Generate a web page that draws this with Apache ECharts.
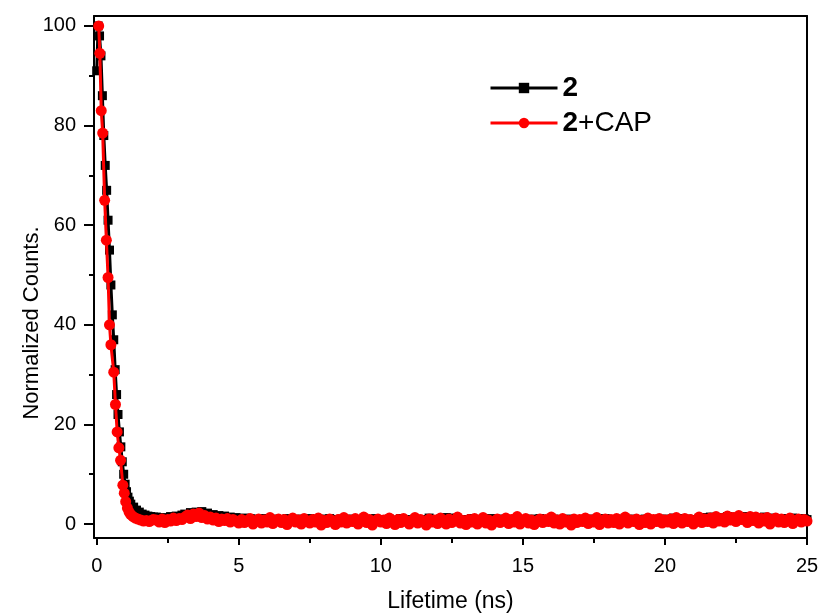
<!DOCTYPE html>
<html><head><meta charset="utf-8">
<script src="https://cdn.jsdelivr.net/npm/echarts@6/dist/echarts.min.js"></script>
<style>html,body{margin:0;padding:0;background:#fff}#c{width:821px;height:615px}</style>
</head><body><div id="c"></div>
<script>
const seriesNames = ['2', '2+CAP'];
const xTicks = [0, 5, 10, 15, 20, 25];
const xMinorTicks = [2.5, 7.5, 12.5, 17.5, 22.5];
const yTicks = [0, 20, 40, 60, 80, 100];
const yMinorTicks = [10, 30, 50, 70, 90];

// Series "2" (black) – decay part
const blackDecayTime = [0.00,0.05,0.10,0.15,0.20,0.25,0.30,0.35,0.40,0.45,0.50,0.55,0.60,0.65,0.70,0.75,0.80,0.85,0.90,0.95,1.00,1.05,1.10,1.15,1.20,1.30,1.40,1.50,1.60,1.70,1.80,1.90,2.00];
const blackDecayCounts = [91,100,98,94,86,78,72,67,61,55,48,42,37,31,26,22,18.5,15.5,12.5,10,8,6.5,5.4,4.6,4,3.4,2.8,2.4,2.0,1.8,1.6,1.5,1.4];

// Series "2+CAP" (red) – decay part
const redDecayTime = [0.07,0.11,0.16,0.21,0.28,0.34,0.40,0.45,0.50,0.60,0.66,0.72,0.78,0.84,0.92,0.97,1.02,1.08,1.14,1.20,1.28,1.36,1.45,1.55,1.65,1.75,1.85,1.95,2.00];
const redDecayCounts = [100,94.5,83,78.5,65,57,49.5,40,36,30.5,24,18.5,15.3,12.8,7.8,6.2,4.5,3.2,2.4,1.9,1.5,1.2,1.0,0.8,0.6,0.7,0.5,0.8,0.9];

// Tail, sampled from 2.1 ns every 0.1 ns
const tailStart = 2.1, tailStep = 0.1;
const blackTailCounts = [
1.4,1.2,1.0,1.3,1.1,1.5,1.2,1.6,1.4,1.8,
2.0,1.7,2.3,1.9,2.4,2.1,2.5,1.8,2.2,1.7,
1.9,1.5,1.7,1.3,1.6,1.2,1.4,1.0,1.3,1.1,
0.9,1.2,0.8,1.1,0.7,1.0,0.6,0.9,1.1,0.7,
0.8,0.5,1.0,0.7,0.9,0.6,1.1,0.8,0.5,0.9,
0.7,1.0,0.6,0.8,1.1,0.5,0.9,0.7,1.0,0.6,
0.8,1.1,0.7,0.9,0.5,1.0,0.6,0.8,0.7,1.0,
0.6,0.9,0.7,1.0,0.8,0.5,0.9,1.1,0.6,0.8,
0.9,0.6,1.0,0.7,0.8,0.5,1.1,0.7,0.9,0.6,
0.7,1.0,0.8,0.5,0.9,0.7,1.2,0.8,0.6,0.9,
1.0,0.7,1.3,0.9,1.2,0.8,1.0,0.6,0.9,0.7,
0.8,1.1,0.6,0.9,0.7,1.0,0.5,0.8,1.1,0.7,
0.9,0.6,1.0,0.8,0.5,0.9,0.7,1.1,0.8,0.6,
0.9,0.7,1.0,0.6,0.8,1.1,0.7,0.9,0.6,0.8,
1.0,0.7,0.9,0.6,0.8,1.0,0.7,0.5,0.9,0.8,
0.6,0.9,0.7,1.0,0.8,0.6,0.9,0.7,1.1,0.8,
0.7,0.9,0.6,1.0,0.8,0.7,0.9,0.6,1.0,0.8,
0.9,0.7,1.0,0.6,0.8,0.9,0.7,1.0,0.6,0.8,
1.0,0.8,1.2,0.9,0.7,1.1,0.8,1.0,0.7,0.9,
0.8,1.1,0.9,1.3,1.0,1.4,0.9,1.2,1.0,1.3,
1.1,1.5,1.2,1.4,1.0,1.3,1.1,1.5,1.2,1.0,
1.3,1.0,1.2,0.9,1.4,1.1,0.8,1.2,1.0,0.9,
1.1,0.8,1.0,0.7,1.2,0.9,1.0,0.8,1.1,0.9];
const redTailCounts = [
0.8,0.4,1.0,0.3,0.9,0.6,1.2,0.7,1.1,0.9,
1.4,1.8,1.1,2.0,1.5,2.2,1.3,1.7,1.0,1.4,
0.8,1.2,0.5,1.0,0.7,1.1,0.4,0.9,0.6,0.2,
0.9,0.3,0.7,1.1,0.0,0.6,1.0,0.2,0.8,0.4,
1.3,0.1,0.7,1.0,0.3,0.9,-0.1,0.6,1.2,0.4,
0.8,0.0,1.1,0.5,0.2,0.9,0.4,1.2,-0.2,0.7,
0.3,1.0,0.6,-0.1,0.9,0.4,1.3,0.2,0.8,0.5,
1.1,0.0,0.7,1.4,0.3,0.9,-0.2,0.6,1.0,0.4,
0.8,0.1,1.2,0.5,-0.1,0.9,0.3,1.1,0.6,0.0,
0.7,1.3,0.2,0.9,0.5,-0.2,1.0,0.4,0.8,0.1,
1.2,0.6,0.0,1.0,0.3,0.8,1.4,0.2,0.7,-0.1,
0.9,0.4,1.1,0.0,0.6,1.3,0.2,0.8,-0.2,0.5,
1.0,0.3,0.7,1.2,0.1,0.9,0.4,1.5,0.0,0.6,
1.1,0.2,0.8,-0.1,0.6,1.0,0.3,0.9,0.5,1.4,
0.2,0.8,0.0,1.1,0.4,0.7,-0.2,1.0,0.3,0.9,
0.5,1.2,0.1,0.8,0.4,1.3,-0.1,0.7,1.0,0.2,
0.9,0.3,1.1,0.0,0.6,1.4,0.2,0.8,0.5,1.0,
-0.1,0.7,0.3,1.2,0.0,0.9,0.5,1.1,0.2,0.8,
0.4,1.0,0.1,1.3,0.6,0.2,1.1,0.5,0.9,0.0,
0.7,1.4,0.3,1.0,0.5,1.2,0.2,1.5,0.6,1.1,
0.4,1.6,0.8,1.3,0.5,1.7,0.9,1.2,0.3,1.5,
0.7,1.4,0.2,1.1,0.6,1.3,0.0,0.9,1.2,0.4,
1.0,0.3,0.8,1.2,0.1,0.7,1.0,0.4,0.9,0.6];

function buildSeries(decayT, decayC, tailC) {
  const out = decayT.map((t, i) => [t, decayC[i]]);
  tailC.forEach((v, i) => out.push([+(tailStart + i * tailStep).toFixed(2), v]));
  return out;
}
const blackData = buildSeries(blackDecayTime, blackDecayCounts, blackTailCounts);
const redData = buildSeries(redDecayTime, redDecayCounts, redTailCounts);

const FONT = 'Liberation Sans, Arial, sans-serif';
const X_MIN = -0.095, X_MAX = 25, Y_MIN = -2.8, Y_MAX = 102;
const lineCol = '#000';

const chart = echarts.init(document.getElementById('c'), null, {renderer: 'canvas'});
chart.setOption({
  animation: false,
  backgroundColor: '#fff',
  grid: {left: 94, right: 14, top: 16, bottom: 77, containLabel: false, outerBoundsMode: 'none'},
  legend: {
    data: seriesNames,
    orient: 'vertical',
    left: 489, top: 74, padding: 0,
    itemWidth: 67, itemHeight: 13, itemGap: 7,
    lineStyle: {width: 3},
    formatter: function (n) { return n === '2' ? '{b|2}' : '{b|2}{n|+CAP}'; },
    textStyle: {
      rich: {
        b: {fontFamily: FONT, fontSize: 28, fontWeight: 'bold', color: '#000', lineHeight: 28},
        n: {fontFamily: FONT, fontSize: 28, color: '#000', lineHeight: 28}
      }
    }
  },
  xAxis: [
    {
      type: 'value', min: X_MIN, max: X_MAX, position: 'bottom',
      axisLine: {show: true, onZero: false, lineStyle: {color: lineCol, width: 2}},
      axisTick: {show: true, customValues: xTicks, length: 7, lineStyle: {color: lineCol, width: 2}},
      axisLabel: {customValues: xTicks, fontSize: 20, fontFamily: FONT, color: '#000', margin: 18},
      splitLine: {show: false},
      name: 'Lifetime (ns)', nameLocation: 'middle', nameGap: 52, nameMoveOverlap: false,
      nameTextStyle: {fontSize: 23, fontFamily: FONT, color: '#000'}
    },
    {
      type: 'value', min: X_MIN, max: X_MAX, position: 'bottom',
      axisLine: {show: false, onZero: false},
      axisTick: {show: true, customValues: xMinorTicks, length: 5, lineStyle: {color: lineCol, width: 2}},
      axisLabel: {show: false, customValues: xMinorTicks},
      splitLine: {show: false}
    },
    {
      type: 'value', min: X_MIN, max: X_MAX, position: 'top',
      axisLine: {show: true, onZero: false, lineStyle: {color: lineCol, width: 2}},
      axisTick: {show: false}, axisLabel: {show: false}, splitLine: {show: false}
    }
  ],
  yAxis: [
    {
      type: 'value', min: Y_MIN, max: Y_MAX, position: 'left',
      axisLine: {show: true, onZero: false, lineStyle: {color: lineCol, width: 2}},
      axisTick: {show: true, customValues: yTicks, length: 10, lineStyle: {color: lineCol, width: 2}},
      axisLabel: {customValues: yTicks, fontSize: 20, fontFamily: FONT, color: '#000', margin: 18},
      splitLine: {show: false},
      name: 'Normalized Counts.', nameLocation: 'middle', nameGap: 51, nameRotate: 90, nameMoveOverlap: false,
      nameTextStyle: {fontSize: 22, fontFamily: FONT, color: '#000', padding: [0, 92, 0, 0]}
    },
    {
      type: 'value', min: Y_MIN, max: Y_MAX, position: 'left',
      axisLine: {show: false, onZero: false},
      axisTick: {show: true, customValues: yMinorTicks, length: 5, lineStyle: {color: lineCol, width: 2}},
      axisLabel: {show: false, customValues: yMinorTicks},
      splitLine: {show: false}
    },
    {
      type: 'value', min: Y_MIN, max: Y_MAX, position: 'right',
      axisLine: {show: true, onZero: false, lineStyle: {color: lineCol, width: 2}},
      axisTick: {show: false}, axisLabel: {show: false}, splitLine: {show: false}
    }
  ],
  series: [
    {
      name: seriesNames[0], type: 'line', xAxisIndex: 0, yAxisIndex: 0,
      data: blackData, symbol: 'rect', symbolSize: 9, showAllSymbol: true,
      itemStyle: {color: '#000'}, lineStyle: {color: '#000', width: 3}, z: 2
    },
    {
      name: seriesNames[1], type: 'line', xAxisIndex: 0, yAxisIndex: 0,
      data: redData, symbol: 'circle', symbolSize: 11, showAllSymbol: true,
      itemStyle: {color: '#ff0000'}, lineStyle: {color: '#ff0000', width: 3}, z: 3
    }
  ]
});
</script>
</body></html>
